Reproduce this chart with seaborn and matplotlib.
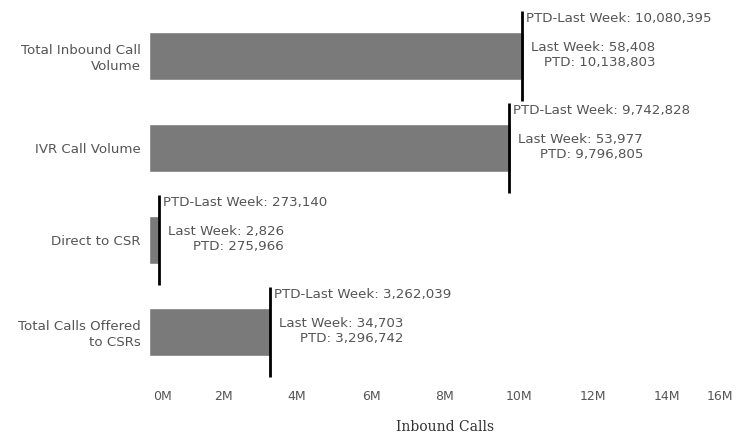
import pandas as pd
import matplotlib
matplotlib.use('Agg')
import matplotlib.pyplot as plt
import seaborn as sns
from matplotlib.transforms import ScaledTranslation

# data
categories = ['Total Inbound Call\nVolume', 'IVR Call Volume', 'Direct to CSR', 'Total Calls Offered\nto CSRs']
ptd = [10138803, 9796805, 275966, 3296742]
last_week = [58408, 53977, 2826, 34703]
ptd_last_week = [10080395, 9742828, 273140, 3262039]
x_ticks = [0, 2e6, 4e6, 6e6, 8e6, 10e6, 12e6, 14e6, 16e6]
x_tick_labels = ['0M', '2M', '4M', '6M', '8M', '10M', '12M', '14M', '16M']

df = pd.DataFrame({'category': categories, 'PTD': ptd})

sns.set_theme(style='white')
plt.rcParams['font.family'] = ['DejaVu Sans']

fig = plt.figure(figsize=(7.39, 4.34), dpi=100)
ax = fig.add_axes([149 / 739, 56 / 434, 592 / 739, 368 / 434])

sns.barplot(data=df, y='category', x='PTD', color='#7a7a7a', saturation=1,
            width=0.52, orient='h', ax=ax)

text_color = '#555555'
fs = 9.6
for i, (p, lw, prev) in enumerate(zip(ptd, last_week, ptd_last_week)):
    # reference line at previous PTD
    ax.vlines(prev, i - 0.49, i + 0.49, color='black', linewidth=2, zorder=5)
    ax.annotate(f'PTD-Last Week: {prev:,}', xy=(prev, i - 0.41), xytext=(4, 0),
                textcoords='offset pixels', ha='left', va='center',
                fontsize=fs, color=text_color)
    ax.annotate(f'Last Week: {lw:,}\nPTD: {p:,}', xy=(prev, i - 0.01), xytext=(9, 0),
                textcoords='offset pixels', ha='left', va='center',
                multialignment='right', linespacing=1.2,
                fontsize=fs, color=text_color)

ax.set_xlim(0, 16e6)
ax.set_ylim(3.5, -0.5)
ax.set_xticks(x_ticks)
ax.set_xticklabels(x_tick_labels, fontsize=9, color=text_color)
ax.tick_params(axis='x', length=0, pad=9)
ax.tick_params(axis='y', length=0, pad=6, labelsize=fs, labelcolor=text_color)

labels = ax.get_xticklabels()
labels[0].set_horizontalalignment('left')
labels[0].set_transform(labels[0].get_transform() + ScaledTranslation(4 / 100, 0, fig.dpi_scale_trans))
labels[-1].set_horizontalalignment('right')
labels[-1].set_transform(labels[-1].get_transform() + ScaledTranslation(-8 / 100, 0, fig.dpi_scale_trans))

ax.set_ylabel('')
ax.set_xlabel('Inbound Calls', fontsize=10, color='#333333', family='DejaVu Serif', labelpad=12)
for s in ax.spines.values():
    s.set_visible(False)

fig.savefig('out.png', dpi=100)
